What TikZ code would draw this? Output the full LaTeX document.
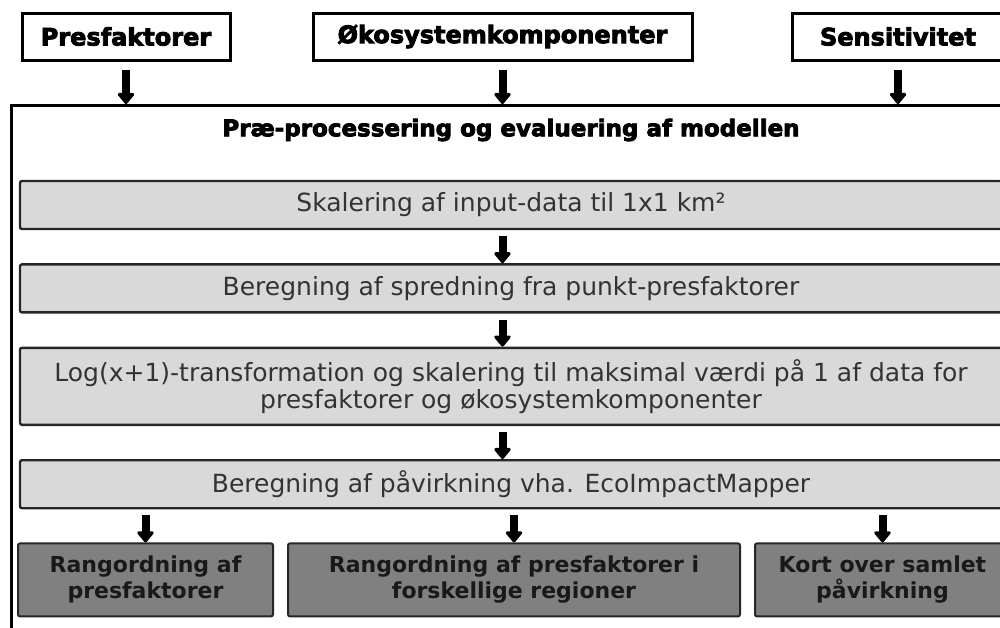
\documentclass[tikz,border=0pt]{standalone}
\usepackage{fontspec}
\setmainfont{DejaVu Sans}
\newfontfamily\heavyfont{DejaVu Sans}[BoldFeatures={FakeBold=3.5}]
\usetikzlibrary{positioning,arrows.meta}
\definecolor{barfill}{RGB}{217,217,217}
\definecolor{rankfill}{RGB}{128,128,128}
\definecolor{bartext}{RGB}{51,51,51}

\begin{document}
\begin{tikzpicture}[
    x=0.5pt, y=-0.5pt,
    node distance=16.5pt,
    inbox/.style={rectangle, draw=black, line width=1.5pt, fill=white, minimum height=23.5pt, font=\heavyfont\bfseries\fontsize{12}{14}\selectfont},
    bar/.style={rectangle, draw=black!85, line width=1.2pt, fill=barfill, minimum width=491pt, minimum height=24pt, rounded corners=1pt, align=center, text=bartext, font=\fontsize{12.5}{13.5}\selectfont},
    rank/.style={rectangle, draw=black!85, line width=1pt, fill=rankfill, minimum height=36.5pt, rounded corners=1pt, align=center, text=black!90, font=\bfseries\fontsize{11}{13}\selectfont},
    arrow/.style={-{Triangle[width=9.5pt,length=6pt,round]}, line width=4pt},
    title/.style={font=\heavyfont\bfseries\fontsize{11.5}{13}\selectfont}
]
\useasboundingbox (0,0) rectangle (1000,627);
\clip (0,0) rectangle (1000,627);

% Inputs
\node[inbox, minimum width=104pt] (pres) at (126,36.5) {Presfaktorer};
\node[inbox, minimum width=189.5pt] (oko) at (502.5,36.5) {Økosystemkomponenter};
\node[inbox, minimum width=106pt] (sens) at (898,36.5) {Sensitivitet};

% Model frame
\node[rectangle, draw=black, line width=1.5pt, minimum width=500.25pt, minimum height=267.25pt] (outer) at (511.75,372.75) {};
\node[title] (head) at (511,130) {Præ-processering og evaluering af modellen};

% Steps
\node[bar] (scale) at (511,205) {Skalering af input-data til 1x1 km²};
\node[bar, below=of scale] (spread) {Beregning af spredning fra punkt-presfaktorer};
\node[bar, below=of spread, minimum height=38.5pt] (logt) {Log(x+1)-transformation og skalering til maksimal værdi på 1 af data for\\presfaktorer og økosystemkomponenter};
\node[bar, below=of logt] (impact) {Beregning af påvirkning vha. EcoImpactMapper};

% Outputs
\node[rank, minimum width=226pt, below=of impact, xshift=1.5pt] (rankreg) {Rangordning af presfaktorer i\\forskellige regioner};
\node[rank, minimum width=127.5pt, left=6.5pt of rankreg] (rankpres) {Rangordning af\\presfaktorer};
\node[rank, minimum width=127.5pt, right=6.5pt of rankreg] (kort) {Kort over samlet\\påvirkning};

% Arrows
\draw[arrow, shorten <=4pt] (pres.south) -- (pres.south |- outer.north);
\draw[arrow, shorten <=4pt] (oko.south) -- (oko.south |- outer.north);
\draw[arrow, shorten <=4pt] (sens.south) -- (sens.south |- outer.north);
\draw[arrow, shorten <=3pt] (scale.south -| oko) -- (spread.north -| oko);
\draw[arrow, shorten <=3pt] (spread.south -| oko) -- (logt.north -| oko);
\draw[arrow, shorten <=3pt] (logt.south -| oko) -- (impact.north -| oko);
\draw[arrow, shorten <=3pt] (rankpres |- impact.south) -- (rankpres.north);
\draw[arrow, shorten <=3pt] (rankreg |- impact.south) -- (rankreg.north);
\draw[arrow, shorten <=3pt] (kort |- impact.south) -- (kort.north);
\end{tikzpicture}
\end{document}
